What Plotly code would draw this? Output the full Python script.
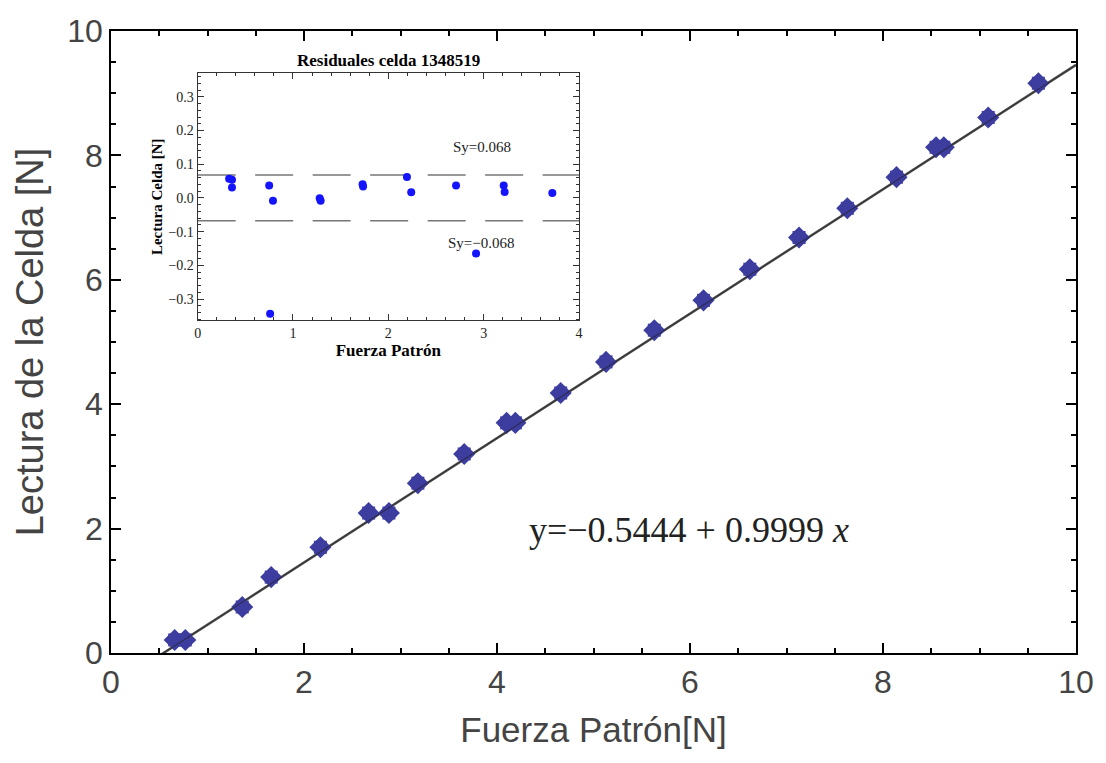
import plotly.graph_objects as go

# Main calibration data (Fuerza Patrón vs Lectura de la Celda)
main_x = [0.66, 0.77, 1.36, 1.66, 2.17, 2.67, 2.88, 3.18, 3.66, 4.10, 4.19, 4.66, 5.13,
          5.63, 6.14, 6.62, 7.13, 7.63, 8.14, 8.55, 8.63, 9.09, 9.61]
main_y = [0.21, 0.21, 0.74, 1.22, 1.70, 2.25, 2.25, 2.73, 3.20, 3.70, 3.70, 4.18, 4.68,
          5.19, 5.67, 6.17, 6.68, 7.15, 7.65, 8.13, 8.13, 8.61, 9.16]

# Fit line
fit_intercept = -0.5444
fit_slope = 0.9999
fit_x = [0, 10]
fit_y = [fit_intercept + fit_slope * v for v in fit_x]

# Residuals (inset)
res_x = [0.33, 0.36, 0.36, 0.75, 0.79, 0.76, 1.28, 1.29, 1.73, 1.735, 2.195, 2.24,
         2.71, 2.92, 3.21, 3.22, 3.72]
res_y = [0.057, 0.054, 0.031, 0.037, -0.008, -0.344, -0.001, -0.008, 0.041, 0.034,
         0.062, 0.017, 0.037, -0.165, 0.037, 0.018, 0.015]
sy = 0.068

main_ticks = [0, 2, 4, 6, 8, 10]
inset_xticks = [0, 1, 2, 3, 4]
inset_yticks = [-0.3, -0.2, -0.1, 0.0, 0.1, 0.2, 0.3]

fig = go.Figure()

fig.add_trace(go.Scatter(x=fit_x, y=fit_y, mode="lines",
                         line=dict(color="#555555", width=2.5),
                         xaxis="x", yaxis="y", showlegend=False))
fig.add_trace(go.Scatter(x=main_x, y=main_y, mode="markers",
                         marker=dict(symbol="diamond", size=17, color="#3d3da0",
                                     line=dict(width=0)),
                         xaxis="x", yaxis="y", showlegend=False))
fig.add_trace(go.Scatter(x=main_x, y=main_y, mode="markers",
                         marker=dict(symbol="square", size=13, color="#3d3da0",
                                     line=dict(width=0)),
                         xaxis="x", yaxis="y", showlegend=False))
fig.add_trace(go.Scatter(x=fit_x, y=fit_y, mode="lines",
                         line=dict(color="#222222", width=1.2),
                         xaxis="x", yaxis="y", showlegend=False, opacity=0.6))

# inset
for s in (sy, -sy):
    fig.add_trace(go.Scatter(x=[0, 4], y=[s, s], mode="lines",
                             line=dict(color="#777777", width=1.5, dash="38px,19.5px"),
                             xaxis="x2", yaxis="y2", showlegend=False))
fig.add_trace(go.Scatter(x=res_x, y=res_y, mode="markers",
                         marker=dict(symbol="circle", size=8, color="#1414ff"),
                         xaxis="x2", yaxis="y2", showlegend=False))

axis_line = dict(showline=True, linecolor="black", linewidth=1.5, mirror="ticks",
                 ticks="inside", ticklen=10, tickwidth=1.5, tickcolor="black",
                 showgrid=False, zeroline=False)

serif = "Liberation Serif, Times New Roman, serif"
sans = "Liberation Sans, Arial, sans-serif"

fig.update_layout(
    width=1106, height=763,
    paper_bgcolor="white", plot_bgcolor="white",
    margin=dict(l=111, r=26, t=31, b=110),
    xaxis=dict(range=[0, 10], tickvals=main_ticks,
               tickfont=dict(family=sans, size=32, color="#444444"),
               title=dict(text="Fuerza Patrón[N]", font=dict(family=sans, size=35, color="#444444"),
                          standoff=18),
               minor=dict(dtick=0.5, ticklen=5, ticks="inside", tickcolor="black", tickwidth=1.5),
               domain=[0, 1], **axis_line),
    yaxis=dict(range=[0, 10], tickvals=main_ticks,
               tickfont=dict(family=sans, size=32, color="#444444"),
               title=dict(text="Lectura de la Celda [N]", font=dict(family=sans, size=38, color="#444444"),
                          standoff=12),
               minor=dict(dtick=0.5, ticklen=5, ticks="inside", tickcolor="black", tickwidth=1.5),
               domain=[0, 1], **axis_line),
    xaxis2=dict(range=[0, 4], tickvals=inset_xticks, anchor="y2",
                domain=[0.0898, 0.485],
                tickfont=dict(family=serif, size=14, color="#222222"),
                title=dict(text="<b>Fuerza Patrón</b>", font=dict(family=serif, size=17, color="black"),
                           standoff=4),
                showline=True, linecolor="#333333", linewidth=1, mirror="ticks",
                ticks="inside", ticklen=6, tickwidth=1, tickcolor="#333333",
                minor=dict(dtick=0.2, ticklen=3, ticks="inside", tickcolor="#333333", tickwidth=1),
                showgrid=False, zeroline=False),
    yaxis2=dict(range=[-0.363, 0.37], tickvals=inset_yticks, tickformat=".1f", anchor="x2",
                domain=[0.535, 0.932],
                tickfont=dict(family=serif, size=14, color="#222222"),
                title=dict(text="<b>Lectura Celda [N]</b>", font=dict(family=serif, size=15, color="black"),
                           standoff=2),
                showline=True, linecolor="#333333", linewidth=1, mirror="ticks",
                ticks="inside", ticklen=6, tickwidth=1, tickcolor="#333333",
                minor=dict(dtick=0.02, ticklen=3, ticks="inside", tickcolor="#333333", tickwidth=1),
                showgrid=False, zeroline=False),
    annotations=[
        dict(text="y=−0.5444 + 0.9999 <i>x</i>", x=5.99, y=1.98, xref="x", yref="y",
             showarrow=False, font=dict(family=serif, size=36, color="#222222")),
        dict(text="<b>Residuales celda 1348519</b>", x=2, y=0.37, xref="x2", yref="y2",
             yanchor="bottom", yshift=1, showarrow=False,
             font=dict(family=serif, size=17, color="black")),
        dict(text="Sy=0.068", x=2.98, y=0.15, xref="x2", yref="y2", showarrow=False,
             font=dict(family=serif, size=15, color="#222222")),
        dict(text="Sy=−0.068", x=2.98, y=-0.135, xref="x2", yref="y2", showarrow=False,
             font=dict(family=serif, size=15, color="#222222")),
    ],
)

fig.write_html("out.html")
